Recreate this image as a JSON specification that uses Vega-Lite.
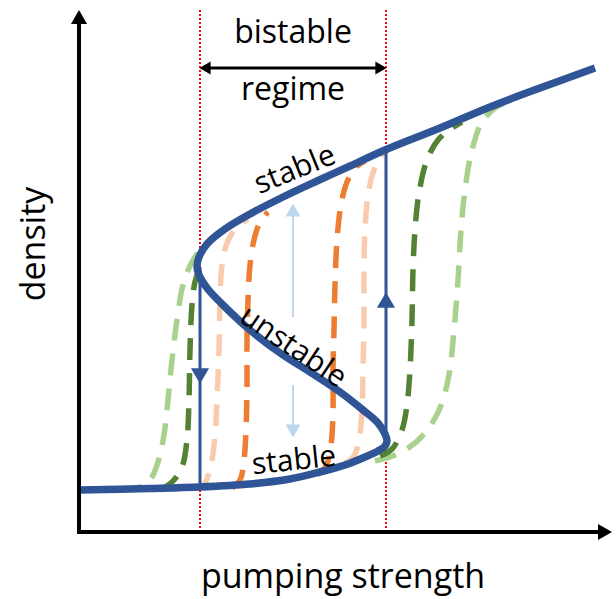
{
  "$schema": "https://vega.github.io/schema/vega-lite/v6.json",
  "width": 616,
  "height": 599,
  "autosize": {"type": "fit", "contains": "padding"},
  "padding": 0,
  "background": "white",
  "config": {"view": {"stroke": null}, "text": {"font": "Open Sans", "color": "black"}},
  "datasets": {
    "main": [
      {"i": 0, "x": 0, "y": 42}, {"i": 1, "x": 71, "y": 43.5}, {"i": 2, "x": 121, "y": 45}, {"i": 3, "x": 171, "y": 48},
      {"i": 4, "x": 211, "y": 53}, {"i": 5, "x": 241, "y": 60}, {"i": 6, "x": 266, "y": 67}, {"i": 7, "x": 286, "y": 75},
      {"i": 8, "x": 299, "y": 81}, {"i": 9, "x": 306, "y": 86}, {"i": 10, "x": 308, "y": 91}, {"i": 11, "x": 306, "y": 98},
      {"i": 12, "x": 299, "y": 109}, {"i": 13, "x": 284, "y": 122}, {"i": 14, "x": 261, "y": 140}, {"i": 15, "x": 231, "y": 160},
      {"i": 16, "x": 204, "y": 177}, {"i": 17, "x": 171, "y": 202}, {"i": 18, "x": 144, "y": 227}, {"i": 19, "x": 128, "y": 244},
      {"i": 20, "x": 120, "y": 257}, {"i": 21, "x": 118, "y": 265}, {"i": 22, "x": 120, "y": 275}, {"i": 23, "x": 128, "y": 288},
      {"i": 24, "x": 146, "y": 303}, {"i": 25, "x": 171, "y": 318}, {"i": 26, "x": 204, "y": 335}, {"i": 27, "x": 238, "y": 351},
      {"i": 28, "x": 271, "y": 366}, {"i": 29, "x": 306, "y": 382}, {"i": 30, "x": 361, "y": 404}, {"i": 31, "x": 411, "y": 425},
      {"i": 32, "x": 461, "y": 444}, {"i": 33, "x": 516, "y": 464}
    ],
    "dashed": [
      {"curve": "lg1", "i": 0, "x": 41, "y": 42}, {"curve": "lg1", "i": 1, "x": 61, "y": 45}, {"curve": "lg1", "i": 2, "x": 71, "y": 52},
      {"curve": "lg1", "i": 3, "x": 79, "y": 70}, {"curve": "lg1", "i": 4, "x": 85, "y": 97}, {"curve": "lg1", "i": 5, "x": 89, "y": 132},
      {"curve": "lg1", "i": 6, "x": 93, "y": 172}, {"curve": "lg1", "i": 7, "x": 98, "y": 212}, {"curve": "lg1", "i": 8, "x": 104, "y": 247},
      {"curve": "lg1", "i": 9, "x": 113, "y": 270}, {"curve": "lg1", "i": 10, "x": 124, "y": 285}, {"curve": "lg1", "i": 11, "x": 139, "y": 299},
      {"curve": "lg1", "i": 12, "x": 153, "y": 308},
      {"curve": "lg2", "i": 0, "x": 296, "y": 71}, {"curve": "lg2", "i": 1, "x": 311, "y": 75}, {"curve": "lg2", "i": 2, "x": 328, "y": 83},
      {"curve": "lg2", "i": 3, "x": 346, "y": 99}, {"curve": "lg2", "i": 4, "x": 361, "y": 124}, {"curve": "lg2", "i": 5, "x": 370, "y": 157},
      {"curve": "lg2", "i": 6, "x": 375, "y": 202}, {"curve": "lg2", "i": 7, "x": 379, "y": 252}, {"curve": "lg2", "i": 8, "x": 382, "y": 302},
      {"curve": "lg2", "i": 9, "x": 386, "y": 342}, {"curve": "lg2", "i": 10, "x": 393, "y": 382}, {"curve": "lg2", "i": 11, "x": 403, "y": 410},
      {"curve": "lg2", "i": 12, "x": 416, "y": 424}, {"curve": "lg2", "i": 13, "x": 426, "y": 429},
      {"curve": "dg1", "i": 0, "x": 81, "y": 42}, {"curve": "dg1", "i": 1, "x": 93, "y": 50}, {"curve": "dg1", "i": 2, "x": 103, "y": 65},
      {"curve": "dg1", "i": 3, "x": 108, "y": 92}, {"curve": "dg1", "i": 4, "x": 110, "y": 132}, {"curve": "dg1", "i": 5, "x": 111, "y": 182},
      {"curve": "dg1", "i": 6, "x": 113, "y": 227}, {"curve": "dg1", "i": 7, "x": 116, "y": 250}, {"curve": "dg1", "i": 8, "x": 121, "y": 264},
      {"curve": "dg1", "i": 9, "x": 127, "y": 274},
      {"curve": "dg2", "i": 0, "x": 301, "y": 76}, {"curve": "dg2", "i": 1, "x": 313, "y": 83}, {"curve": "dg2", "i": 2, "x": 323, "y": 102},
      {"curve": "dg2", "i": 3, "x": 328, "y": 127}, {"curve": "dg2", "i": 4, "x": 331, "y": 162}, {"curve": "dg2", "i": 5, "x": 333, "y": 212},
      {"curve": "dg2", "i": 6, "x": 334, "y": 262}, {"curve": "dg2", "i": 7, "x": 336, "y": 302}, {"curve": "dg2", "i": 8, "x": 340, "y": 339},
      {"curve": "dg2", "i": 9, "x": 348, "y": 372}, {"curve": "dg2", "i": 10, "x": 359, "y": 392}, {"curve": "dg2", "i": 11, "x": 373, "y": 404},
      {"curve": "dg2", "i": 12, "x": 383, "y": 410},
      {"curve": "pc1", "i": 0, "x": 116, "y": 43}, {"curve": "pc1", "i": 1, "x": 125, "y": 48}, {"curve": "pc1", "i": 2, "x": 132, "y": 67},
      {"curve": "pc1", "i": 3, "x": 136, "y": 97}, {"curve": "pc1", "i": 4, "x": 138, "y": 132}, {"curve": "pc1", "i": 5, "x": 140, "y": 182},
      {"curve": "pc1", "i": 6, "x": 141, "y": 232}, {"curve": "pc1", "i": 7, "x": 143, "y": 267}, {"curve": "pc1", "i": 8, "x": 148, "y": 289},
      {"curve": "pc1", "i": 9, "x": 157, "y": 304}, {"curve": "pc1", "i": 10, "x": 169, "y": 313},
      {"curve": "pc2", "i": 0, "x": 266, "y": 69}, {"curve": "pc2", "i": 1, "x": 275, "y": 76}, {"curve": "pc2", "i": 2, "x": 280, "y": 92},
      {"curve": "pc2", "i": 3, "x": 283, "y": 122}, {"curve": "pc2", "i": 4, "x": 284, "y": 162}, {"curve": "pc2", "i": 5, "x": 285, "y": 212},
      {"curve": "pc2", "i": 6, "x": 285, "y": 262}, {"curve": "pc2", "i": 7, "x": 286, "y": 302}, {"curve": "pc2", "i": 8, "x": 289, "y": 337},
      {"curve": "pc2", "i": 9, "x": 295, "y": 362}, {"curve": "pc2", "i": 10, "x": 303, "y": 377}, {"curve": "pc2", "i": 11, "x": 313, "y": 385},
      {"curve": "or1", "i": 0, "x": 153, "y": 44}, {"curve": "or1", "i": 1, "x": 161, "y": 52}, {"curve": "or1", "i": 2, "x": 165, "y": 72},
      {"curve": "or1", "i": 3, "x": 167, "y": 102}, {"curve": "or1", "i": 4, "x": 168, "y": 142}, {"curve": "or1", "i": 5, "x": 168, "y": 192},
      {"curve": "or1", "i": 6, "x": 169, "y": 232}, {"curve": "or1", "i": 7, "x": 171, "y": 267}, {"curve": "or1", "i": 8, "x": 175, "y": 292},
      {"curve": "or1", "i": 9, "x": 181, "y": 310}, {"curve": "or1", "i": 10, "x": 189, "y": 320},
      {"curve": "or2", "i": 0, "x": 239, "y": 58}, {"curve": "or2", "i": 1, "x": 247, "y": 66}, {"curve": "or2", "i": 2, "x": 252, "y": 87},
      {"curve": "or2", "i": 3, "x": 254, "y": 122}, {"curve": "or2", "i": 4, "x": 254, "y": 162}, {"curve": "or2", "i": 5, "x": 255, "y": 202},
      {"curve": "or2", "i": 6, "x": 256, "y": 247}, {"curve": "or2", "i": 7, "x": 258, "y": 292}, {"curve": "or2", "i": 8, "x": 262, "y": 327},
      {"curve": "or2", "i": 9, "x": 268, "y": 350}, {"curve": "or2", "i": 10, "x": 277, "y": 365}, {"curve": "or2", "i": 11, "x": 286, "y": 371}
    ]
  },
  "encoding": {
    "x": {"field": "x", "type": "quantitative", "scale": {"domain": [-79, 537], "nice": false, "zero": false}, "axis": null},
    "y": {"field": "y", "type": "quantitative", "scale": {"domain": [-67, 532], "nice": false, "zero": false}, "axis": null}
  },
  "layer": [
    {
      "data": {"values": [{"x": 121, "y": 0, "y2": 522}, {"x": 307, "y": 0, "y2": 522}]},
      "mark": {"type": "rule", "color": "#FF0000", "strokeWidth": 2, "strokeDash": [2, 2]},
      "encoding": {"y2": {"field": "y2"}}
    },
    {
      "data": {"name": "dashed"},
      "mark": {"type": "line", "interpolate": "catmull-rom", "strokeWidth": 5.5, "strokeDash": [22, 13]},
      "encoding": {
        "color": {
          "field": "curve", "type": "nominal", "legend": null,
          "scale": {
            "domain": ["lg1", "lg2", "dg1", "dg2", "pc1", "pc2", "or1", "or2"],
            "range": ["#A9D18E", "#A9D18E", "#548235", "#548235", "#F8CBAD", "#F8CBAD", "#ED7D31", "#ED7D31"]
          }
        },
        "order": {"field": "i", "type": "quantitative"}
      }
    },
    {
      "data": {"name": "main"},
      "mark": {"type": "line", "interpolate": "catmull-rom", "strokeWidth": 7.5, "color": "#2F5597"},
      "encoding": {"order": {"field": "i", "type": "quantitative"}}
    },
    {
      "data": {"values": [{"x": 121, "y": 265, "y2": 44}, {"x": 307, "y": 91, "y2": 382}]},
      "mark": {"type": "rule", "color": "#2F5597", "strokeWidth": 3},
      "encoding": {"y2": {"field": "y2"}}
    },
    {
      "data": {"values": [{"x": 121, "y": 156, "dir": "down"}, {"x": 307, "y": 232, "dir": "up"}]},
      "mark": {"type": "point", "filled": true, "opacity": 1, "size": 330, "color": "#2F5597"},
      "encoding": {"shape": {"field": "dir", "type": "nominal", "legend": null, "scale": {"domain": ["up", "down", "left", "right"], "range": ["triangle-up", "triangle-down", "triangle-left", "triangle-right"]}}}
    },
    {
      "data": {"values": [{"x": 214, "y": 322, "y2": 215}, {"x": 214, "y": 147, "y2": 101}]},
      "mark": {"type": "rule", "color": "#BDD7EE", "strokeWidth": 2},
      "encoding": {"y2": {"field": "y2"}}
    },
    {
      "data": {"values": [{"x": 214, "y": 322, "dir": "up"}, {"x": 214, "y": 101, "dir": "down"}]},
      "mark": {"type": "point", "filled": true, "opacity": 1, "size": 220, "color": "#BDD7EE"},
      "encoding": {"shape": {"field": "dir", "type": "nominal", "legend": null, "scale": {"domain": ["up", "down", "left", "right"], "range": ["triangle-up", "triangle-down", "triangle-left", "triangle-right"]}}}
    },
    {
      "data": {"values": [{"x": 0, "y": 0, "x2": 521, "y2": 0}, {"x": 0, "y": 0, "x2": 0, "y2": 510}]},
      "mark": {"type": "rule", "color": "black", "strokeWidth": 4, "strokeCap": "square"},
      "encoding": {"x2": {"field": "x2"}, "y2": {"field": "y2"}}
    },
    {
      "data": {"values": [{"x": 526, "y": 0, "dir": "right"}, {"x": 0, "y": 515, "dir": "up"}]},
      "mark": {"type": "point", "filled": true, "opacity": 1, "size": 260, "color": "black"},
      "encoding": {"shape": {"field": "dir", "type": "nominal", "legend": null, "scale": {"domain": ["up", "down", "left", "right"], "range": ["triangle-up", "triangle-down", "triangle-left", "triangle-right"]}}}
    },
    {
      "data": {"values": [{"x": 126, "y": 464, "x2": 302}]},
      "mark": {"type": "rule", "color": "black", "strokeWidth": 3},
      "encoding": {"x2": {"field": "x2"}}
    },
    {
      "data": {"values": [{"x": 126, "y": 464, "dir": "left"}, {"x": 302, "y": 464, "dir": "right"}]},
      "mark": {"type": "point", "filled": true, "opacity": 1, "size": 170, "color": "black"},
      "encoding": {"shape": {"field": "dir", "type": "nominal", "legend": null, "scale": {"domain": ["up", "down", "left", "right"], "range": ["triangle-up", "triangle-down", "triangle-left", "triangle-right"]}}}
    },
    {
      "data": {"values": [{"x": 214, "y": 499, "label": "bistable"}, {"x": 214, "y": 442, "label": "regime"}]},
      "mark": {"type": "text", "fontSize": 32, "align": "center", "baseline": "middle"},
      "encoding": {"text": {"field": "label"}}
    },
    {
      "data": {"values": [{"x": 264, "y": -46, "label": "pumping strength"}]},
      "mark": {"type": "text", "fontSize": 34, "align": "center", "baseline": "middle"},
      "encoding": {"text": {"field": "label"}}
    },
    {
      "data": {"values": [{"x": -44, "y": 288, "label": "density"}]},
      "mark": {"type": "text", "fontSize": 34, "align": "center", "baseline": "middle", "angle": 270},
      "encoding": {"text": {"field": "label"}}
    },
    {
      "data": {"values": [{"x": 216, "y": 362, "label": "stable"}]},
      "mark": {"type": "text", "fontSize": 30, "align": "center", "baseline": "middle", "angle": 338},
      "encoding": {"text": {"field": "label"}}
    },
    {
      "data": {"values": [{"x": 214, "y": 185, "label": "unstable"}]},
      "mark": {"type": "text", "fontSize": 30, "align": "center", "baseline": "middle", "angle": 34},
      "encoding": {"text": {"field": "label"}}
    },
    {
      "data": {"values": [{"x": 215, "y": 71, "label": "stable"}]},
      "mark": {"type": "text", "fontSize": 30, "align": "center", "baseline": "middle", "angle": 354},
      "encoding": {"text": {"field": "label"}}
    }
  ]
}
